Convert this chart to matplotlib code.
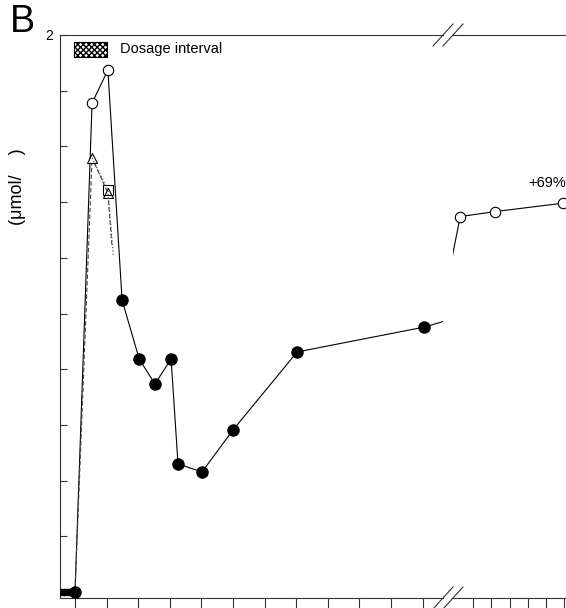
import numpy as np
import matplotlib
matplotlib.use("Agg")
import matplotlib.pyplot as plt
from matplotlib.patches import Rectangle
from matplotlib.lines import Line2D

plt.rcParams["font.family"] = ["Liberation Sans", "DejaVu Sans"]

# pre-dose baseline
t_pre = [-0.42, -0.25, -0.08]
c_pre = [0.0, 0.0, 0.0]

# main profile (h): filled start, open during dosing, filled after
t_open = [0.54, 1.04]
c_open = [1.756, 1.874]
t_fill = [0.0, 1.49, 2.03, 2.53, 3.04, 3.26, 4.02, 5.0, 7.03, 11.04]
c_fill = [0.0, 1.048, 0.837, 0.747, 0.837, 0.46, 0.431, 0.582, 0.862, 0.951]
t_late = [23.0, 42.0, 79.0]
c_late = [1.348, 1.366, 1.396]

# other curves during dosing
t_tri = [0.0, 0.54, 1.04, 1.17]
c_tri = [0.0, 1.558, 1.433, 1.24]
t_sq = [0.54, 1.04, 1.21]
c_sq = [1.558, 1.443, 1.21]

ticks_left = list(range(0, 12))
ticks_right = [30, 40, 50, 60, 70, 80, 90, 100]
yticks = [0.2, 0.4, 0.6, 0.8, 1.0, 1.2, 1.4, 1.6, 1.8, 2.0]

W, H = 566, 608
fig = plt.figure(figsize=(W / 100, H / 100), dpi=100)

x0, x1, x2, x3 = 60, 443, 453, 620
ybot, ytop = 598, 35
ax1 = fig.add_axes([x0 / W, 1 - ybot / H, (x1 - x0) / W, (ybot - ytop) / H])
ax2 = fig.add_axes([x2 / W, 1 - ybot / H, (x3 - x2) / W, (ybot - ytop) / H])

ax1.set_xlim(-0.475, 11.645)
ax2.set_xlim(19.07, 110.33)
for ax in (ax1, ax2):
    ax.set_ylim(-0.0215, 2.0)
    ax.spines["right"].set_visible(False)
    for s in ax.spines.values():
        s.set_linewidth(0.8)
        s.set_color("#333333")
    ax.tick_params(axis="x", direction="out", length=7, width=0.8,
                   color="#333333", labelbottom=False)
ax2.spines["left"].set_visible(False)
ax2.set_yticks([])
ax1.set_xticks(ticks_left)
ax2.set_xticks(ticks_right)
ax1.set_yticks(yticks)
ax1.set_yticklabels(["" if v < 2 else "2" for v in yticks], fontsize=10)
ax1.tick_params(axis="y", direction="in", length=5, width=0.8, pad=5,
                color="#333333")

t_all = [t_fill[0]] + t_open + t_fill[1:] + t_late
c_all = [c_fill[0]] + c_open + c_fill[1:] + c_late
for ax in (ax1, ax2):
    ax.plot(t_all, c_all, "-", color="black", lw=0.8, zorder=2)
    ax.plot(t_open + t_late, c_open + c_late, "o", mfc="white", mec="black",
            mew=0.8, ms=7.5, zorder=3)
    ax.plot(t_fill, c_fill, "o", color="black", ms=8, zorder=3)

ax1.plot(t_pre, c_pre, "s-", color="black", lw=3, ms=5, zorder=3)
ax1.plot(t_tri, c_tri, "--", color="#444444", lw=0.8, dashes=(4, 2))
ax1.plot(t_tri[1:3], c_tri[1:3], "^", mfc="white", mec="black", mew=0.8, ms=7)
ax1.plot(t_sq, c_sq, ":", color="#555555", lw=0.9)
ax1.plot(t_sq[1:2], c_sq[1:2], "s", mfc="none", mec="black", mew=0.8, ms=7)

# legend patch for dosage interval
ax1.add_patch(Rectangle((0.0366, 0.961), 0.086, 0.0266, transform=ax1.transAxes,
                        facecolor="white", edgecolor="black", hatch="xxxxxx",
                        lw=0.8))
ax1.text(0.157, 0.975, "Dosage interval", transform=ax1.transAxes,
         fontsize=10.5, va="center", ha="left")

# axis break marks
for xc in (x1, x2):
    for yc in (ytop, ybot):
        fig.add_artist(Line2D([(xc - 10) / W, (xc + 10) / W],
                              [1 - (yc + 11) / H, 1 - (yc - 11) / H],
                              color="#333333", lw=0.8))

fig.text(528 / W, 1 - 183 / H, "+69%", fontsize=10.5, va="center", ha="left")
fig.text(10 / W, 1 - 32 / H, "B", fontsize=27, va="baseline", ha="left")
fig.text(17 / W, 1 - 187 / H, "(\u03bcmol/    )", fontsize=13, rotation=90,
         va="center", ha="center")

fig.savefig("out.png", dpi=100)
